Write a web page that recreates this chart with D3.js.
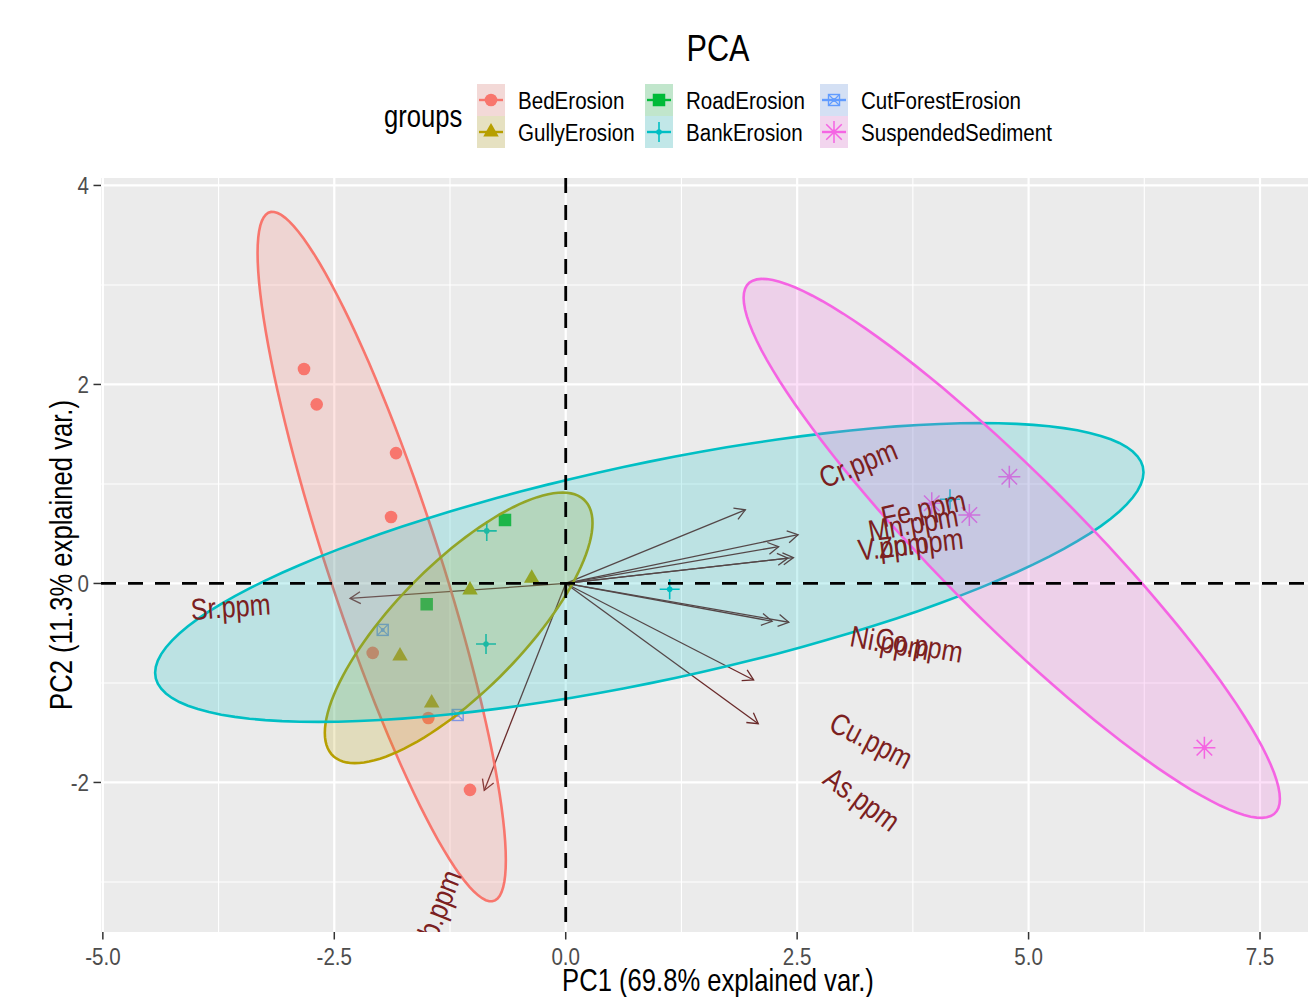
<!DOCTYPE html>
<html>
<head>
<meta charset="utf-8">
<script src="https://cdn.jsdelivr.net/npm/d3@7"></script>
<style>
  body { margin: 0; background: #ffffff; }
  text { font-family: "Liberation Sans", Arial, Helvetica, sans-serif; }
</style>
</head>
<body>
<svg id="chart" width="1308" height="997"></svg>
<script>
// ---- groups (legend order), colours and point shapes ----
const groups = ["BedErosion", "GullyErosion", "RoadErosion", "BankErosion", "CutForestErosion", "SuspendedSediment"];
const groupColors = ["#F8766D", "#B79F00", "#00BA38", "#00BFC4", "#619CFF", "#F564E3"];
const groupShapes = ["circle", "triangle", "square", "plus", "squarecross", "asterisk"];

// ---- sample scores on the first two components ----
const sampleGroup = [
  "BedErosion", "BedErosion", "BedErosion", "BedErosion", "BedErosion", "BedErosion", "BedErosion",
  "GullyErosion", "GullyErosion", "GullyErosion", "GullyErosion",
  "RoadErosion", "RoadErosion",
  "BankErosion", "BankErosion", "BankErosion", "BankErosion",
  "CutForestErosion", "CutForestErosion",
  "SuspendedSediment", "SuspendedSediment", "SuspendedSediment", "SuspendedSediment"
];
const samplePC1 = [
  -2.827, -2.690, -1.833, -1.887, -2.085, -1.484, -1.034,
  -0.367, -1.034, -1.790, -1.448,
  -0.656, -1.502,
  -0.853, -0.861, 1.123, 4.151,
  -1.977, -1.167,
  3.954, 4.792, 4.360, 6.899
];
const samplePC2 = [
  2.156, 1.800, 1.310, 0.668, -0.698, -1.352, -2.075,
  0.052, -0.065, -0.729, -1.201,
  0.638, -0.209,
  0.528, -0.608, -0.058, 0.846,
  -0.467, -1.322,
  0.806, 1.073, 0.688, -1.650
];

// ---- variable loadings (arrows) ----
const varNames = ["Cr.ppm", "Fe.ppm", "Mn.ppm", "V.ppm", "Zn.ppm", "Ni.ppm", "Co.ppm", "Cu.ppm", "As.ppm", "Sr.ppm", "Pb.ppm"];
const varPC1 = [1.94, 2.51, 2.30, 2.40, 2.46, 2.23, 2.41, 2.03, 2.08, -2.33, -0.88];
const varPC2 = [0.74, 0.49, 0.37, 0.255, 0.26, -0.38, -0.39, -0.97, -1.41, -0.15, -2.08];

// ---- axes ----
const xTicks = [-5.0, -2.5, 0.0, 2.5, 5.0, 7.5];
const yTicks = [-2, 0, 2, 4];
const xTickLabels = ["-5.0", "-2.5", "0.0", "2.5", "5.0", "7.5"];
const yTickLabels = ["-2", "0", "2", "4"];

const titleText = "PCA";
const xTitle = "PC1 (69.8% explained var.)";
const yTitle = "PC2 (11.3% explained var.)";
const legendTitle = "groups";

// ellipse settings (stat_ellipse style: robust t covariance)
const ellipseLevel = 0.85;
const varnameAdjust = 3;

// ---- layout ----
const SX = 0.84;                  // horizontal squeeze of the condensed text face
const panel = { left: 101, right: 1335, top: 178, bottom: 932 };
const svg = d3.select("#chart");

const x = d3.scaleLinear().domain([-5.02, 8.31]).range([panel.left, panel.right]);
const y = d3.scaleLinear().domain([-3.503, 4.075]).range([panel.bottom, panel.top]);

svg.append("rect").attr("width", 1308).attr("height", 997).attr("fill", "#ffffff");

svg.append("clipPath").attr("id", "panelClip")
  .append("rect")
  .attr("x", panel.left).attr("y", panel.top)
  .attr("width", panel.right - panel.left).attr("height", panel.bottom - panel.top);

// panel background
svg.append("rect")
  .attr("x", panel.left).attr("y", panel.top)
  .attr("width", panel.right - panel.left).attr("height", panel.bottom - panel.top)
  .attr("fill", "#EBEBEB");

const plot = svg.append("g").attr("clip-path", "url(#panelClip)");

// grid: minor lines half-way between major ticks
const xMinor = [];
for (let i = 0; i < xTicks.length; i++) {
  const step = xTicks[1] - xTicks[0];
  xMinor.push(xTicks[i] - step / 2);
  if (i === xTicks.length - 1) xMinor.push(xTicks[i] + step / 2);
}
const yMinor = [];
for (let i = 0; i < yTicks.length; i++) {
  const step = yTicks[1] - yTicks[0];
  yMinor.push(yTicks[i] - step / 2);
  if (i === yTicks.length - 1) yMinor.push(yTicks[i] + step / 2);
}
plot.selectAll(".xminor").data(xMinor).join("line")
  .attr("x1", d => x(d)).attr("x2", d => x(d))
  .attr("y1", panel.top).attr("y2", panel.bottom)
  .attr("stroke", "#ffffff").attr("stroke-width", 1.1);
plot.selectAll(".yminor").data(yMinor).join("line")
  .attr("y1", d => y(d)).attr("y2", d => y(d))
  .attr("x1", panel.left).attr("x2", panel.right)
  .attr("stroke", "#ffffff").attr("stroke-width", 1.1);
plot.selectAll(".xmajor").data(xTicks).join("line")
  .attr("x1", d => x(d)).attr("x2", d => x(d))
  .attr("y1", panel.top).attr("y2", panel.bottom)
  .attr("stroke", "#ffffff").attr("stroke-width", 2.2);
plot.selectAll(".ymajor").data(yTicks).join("line")
  .attr("y1", d => y(d)).attr("y2", d => y(d))
  .attr("x1", panel.left).attr("x2", panel.right)
  .attr("stroke", "#ffffff").attr("stroke-width", 2.2);

// ---- loading arrows ----
const arrowColor = "#6A2A2A";
const labelColor = "#7B2020";
const ox = x(0), oy = y(0);
const arrowLayer = plot.append("g");
varNames.forEach((name, i) => {
  const tx = x(varPC1[i]), ty = y(varPC2[i]);
  arrowLayer.append("line")
    .attr("x1", ox).attr("y1", oy).attr("x2", tx).attr("y2", ty)
    .attr("stroke", arrowColor).attr("stroke-width", 1.3);
  const a = Math.atan2(ty - oy, tx - ox);
  const hl = 12, ha = Math.PI / 6;
  const head = d3.path();
  head.moveTo(tx - hl * Math.cos(a - ha), ty - hl * Math.sin(a - ha));
  head.lineTo(tx, ty);
  head.lineTo(tx - hl * Math.cos(a + ha), ty - hl * Math.sin(a + ha));
  arrowLayer.append("path").attr("d", head.toString())
    .attr("fill", "none").attr("stroke", arrowColor).attr("stroke-width", 1.3);
});

// ---- point markers ----
function drawMarker(g, shape, color, cx, cy, k) {
  k = k || 1;
  if (shape === "circle") {
    g.append("circle").attr("cx", cx).attr("cy", cy).attr("r", 6.3 * k).attr("fill", color);
  } else if (shape === "triangle") {
    const s = 15.5 * k, h = s * Math.sqrt(3) / 2;
    g.append("path")
      .attr("d", `M${cx},${cy - h * 2 / 3}L${cx + s / 2},${cy + h / 3}L${cx - s / 2},${cy + h / 3}Z`)
      .attr("fill", color);
  } else if (shape === "square") {
    const s = 12.5 * k;
    g.append("rect").attr("x", cx - s / 2).attr("y", cy - s / 2).attr("width", s).attr("height", s).attr("fill", color);
  } else if (shape === "plus") {
    const r = 10 * k;
    g.append("path").attr("d", `M${cx - r},${cy}L${cx + r},${cy}M${cx},${cy - r}L${cx},${cy + r}`)
      .attr("stroke", color).attr("stroke-width", 1.6);
    g.append("circle").attr("cx", cx).attr("cy", cy).attr("r", 2.8 * k).attr("fill", color);
  } else if (shape === "squarecross") {
    const s = 11 * k;
    g.append("rect").attr("x", cx - s / 2).attr("y", cy - s / 2).attr("width", s).attr("height", s)
      .attr("fill", "none").attr("stroke", color).attr("stroke-width", 1.4);
    g.append("path").attr("d", `M${cx - s / 2},${cy - s / 2}L${cx + s / 2},${cy + s / 2}M${cx - s / 2},${cy + s / 2}L${cx + s / 2},${cy - s / 2}`)
      .attr("stroke", color).attr("stroke-width", 1.2);
    g.append("circle").attr("cx", cx).attr("cy", cy).attr("r", 2 * k).attr("fill", color);
  } else if (shape === "asterisk") {
    const r = 11 * k, d = r * Math.SQRT1_2;
    g.append("path")
      .attr("d", `M${cx - r},${cy}L${cx + r},${cy}M${cx},${cy - r}L${cx},${cy + r}` +
                 `M${cx - d},${cy - d}L${cx + d},${cy + d}M${cx - d},${cy + d}L${cx + d},${cy - d}`)
      .attr("stroke", color).attr("stroke-width", 1.5);
    g.append("circle").attr("cx", cx).attr("cy", cy).attr("r", 2.4 * k).attr("fill", color);
  }
}

const pointLayer = plot.append("g");
sampleGroup.forEach((gname, i) => {
  const gi = groups.indexOf(gname);
  drawMarker(pointLayer, groupShapes[gi], groupColors[gi], x(samplePC1[i]), y(samplePC2[i]));
});

// ---- confidence ellipses (robust t covariance, like stat_ellipse) ----
function covTrob(pts) {
  const n = pts.length, p = 2, nu = 5, maxit = 25, tol = 0.01;
  let w = new Array(n).fill(1);
  let loc = [d3.mean(pts, d => d[0]), d3.mean(pts, d => d[1])];
  let X = [];
  for (let it = 0; it < maxit; it++) {
    const w0 = w.slice();
    X = pts.map(d => [d[0] - loc[0], d[1] - loc[1]]);
    const sw = d3.sum(w);
    let a = 0, b = 0, c = 0;
    X.forEach((v, i) => { a += w[i] * v[0] * v[0]; b += w[i] * v[0] * v[1]; c += w[i] * v[1] * v[1]; });
    a /= sw; b /= sw; c /= sw;
    const det = a * c - b * b;
    const Q = X.map(v => (c * v[0] * v[0] - 2 * b * v[0] * v[1] + a * v[1] * v[1]) / det);
    w = Q.map(q => (nu + p) / (nu + q));
    const sw2 = d3.sum(w);
    loc = [d3.sum(pts, (d, i) => w[i] * d[0]) / sw2, d3.sum(pts, (d, i) => w[i] * d[1]) / sw2];
    if (w.every((wi, i) => Math.abs(wi - w0[i]) < tol)) break;
  }
  let a = 0, b = 0, c = 0;
  X.forEach((v, i) => { a += w[i] * v[0] * v[0]; b += w[i] * v[0] * v[1]; c += w[i] * v[1] * v[1]; });
  return { center: loc, cov: [a / n, b / n, c / n] };
}

function ellipsePoints(pts, level, segments) {
  const n = pts.length;
  if (n - 1 < 3) return null;
  const est = covTrob(pts);
  const [sxx, sxy, syy] = est.cov;
  const r11 = Math.sqrt(sxx), r12 = sxy / r11, r22 = Math.sqrt(syy - r12 * r12);
  const dfd = n - 1;
  const qf = dfd / 2 * (Math.pow(1 - level, -2 / dfd) - 1);   // F(2, dfd) quantile
  const radius = Math.sqrt(2 * qf);
  const out = [];
  for (let k = 0; k <= segments; k++) {
    const t = 2 * Math.PI * k / segments;
    const c = Math.cos(t), s = Math.sin(t);
    out.push([est.center[0] + radius * c * r11, est.center[1] + radius * (c * r12 + s * r22)]);
  }
  return out;
}

const ellipseLayer = plot.append("g");
const lineGen = d3.line().x(d => x(d[0])).y(d => y(d[1]));
groups.forEach((gname, gi) => {
  const pts = [];
  sampleGroup.forEach((g, i) => { if (g === gname) pts.push([samplePC1[i], samplePC2[i]]); });
  const ell = ellipsePoints(pts, ellipseLevel, 120);
  if (!ell) return;
  ellipseLayer.append("path").attr("d", lineGen(ell) + "Z")
    .attr("fill", groupColors[gi]).attr("fill-opacity", 0.2)
    .attr("stroke", groupColors[gi]).attr("stroke-width", 2.6);
});

// ---- zero reference lines ----
plot.append("line")
  .attr("x1", panel.left).attr("x2", panel.right).attr("y1", y(0)).attr("y2", y(0))
  .attr("stroke", "#000000").attr("stroke-width", 2.8).attr("stroke-dasharray", "15,12");
plot.append("line")
  .attr("y1", panel.top).attr("y2", panel.bottom).attr("x1", x(0)).attr("x2", x(0))
  .attr("stroke", "#000000").attr("stroke-width", 2.8).attr("stroke-dasharray", "15,12");

// ---- variable labels along each arrow ----
const labelLayer = plot.append("g");
varNames.forEach((name, i) => {
  const vx = varPC1[i], vy = varPC2[i];
  const px = x(vx), py = y(vy);
  // text runs parallel to the drawn arrow
  const ang = Math.atan((oy - py) / (px - ox)) * 180 / Math.PI;
  const hj = (1 - varnameAdjust * Math.sign(vx)) / 2;
  const g = labelLayer.append("g")
    .attr("transform", `translate(${px},${py}) rotate(${-ang})`);
  const t = g.append("text").text(name)
    .attr("font-size", 30).attr("dy", "0.35em").attr("fill", labelColor);
  const w = t.node().getComputedTextLength();
  t.attr("x", -hj * w).attr("transform", `scale(${SX},1)`);
});

// ---- axes ----
function condensedText(parent, str, px, py, size, anchor, color, rotate) {
  const g = parent.append("g").attr("transform", `translate(${px},${py})` + (rotate ? ` rotate(${rotate})` : ""));
  g.append("text").text(str)
    .attr("font-size", size).attr("text-anchor", anchor).attr("fill", color)
    .attr("transform", `scale(${SX},1)`);
  return g;
}

const axes = svg.append("g");
xTicks.forEach((v, i) => {
  axes.append("line").attr("x1", x(v)).attr("x2", x(v)).attr("y1", panel.bottom).attr("y2", panel.bottom + 7.5)
    .attr("stroke", "#333333").attr("stroke-width", 1.5);
  condensedText(axes, xTickLabels[i], x(v), 964.5, 24.5, "middle", "#4D4D4D");
});
yTicks.forEach((v, i) => {
  axes.append("line").attr("x1", panel.left - 7.5).attr("x2", panel.left).attr("y1", y(v)).attr("y2", y(v))
    .attr("stroke", "#333333").attr("stroke-width", 1.5);
  condensedText(axes, yTickLabels[i], 89, y(v) + 8.5, 24.5, "end", "#4D4D4D");
});

condensedText(svg, xTitle, (panel.left + panel.right) / 2, 991, 30.5, "middle", "#000000");
condensedText(svg, yTitle, 0, 0, 30.5, "middle", "#000000")
  .attr("transform", `translate(72,${(panel.top + panel.bottom) / 2}) rotate(-90)`);

// ---- title ----
condensedText(svg, titleText, (panel.left + panel.right) / 2, 61, 36.5, "middle", "#000000");

// ---- legend ----
const legend = svg.append("g");
condensedText(legend, legendTitle, 384, 127, 30.5, "start", "#000000");
const keyX = [477, 645, 820], keyY = [84, 116], keyW = 28, keyH = 32;
groups.forEach((gname, gi) => {
  const col = Math.floor(gi / 2), row = gi % 2;
  const kx = keyX[col], ky = keyY[row];
  legend.append("rect").attr("x", kx).attr("y", ky).attr("width", keyW).attr("height", keyH).attr("fill", "#F2F2F2");
  legend.append("rect").attr("x", kx).attr("y", ky).attr("width", keyW).attr("height", keyH)
    .attr("fill", groupColors[gi]).attr("fill-opacity", 0.2);
  legend.append("line").attr("x1", kx + 2).attr("x2", kx + keyW - 2)
    .attr("y1", ky + keyH / 2).attr("y2", ky + keyH / 2)
    .attr("stroke", groupColors[gi]).attr("stroke-width", 2.4);
  drawMarker(legend, groupShapes[gi], groupColors[gi], kx + keyW / 2, ky + keyH / 2, 1);
  condensedText(legend, gname, kx + 41, ky + keyH / 2 + 8.5, 24.5, "start", "#000000");
});
</script>
</body>
</html>
